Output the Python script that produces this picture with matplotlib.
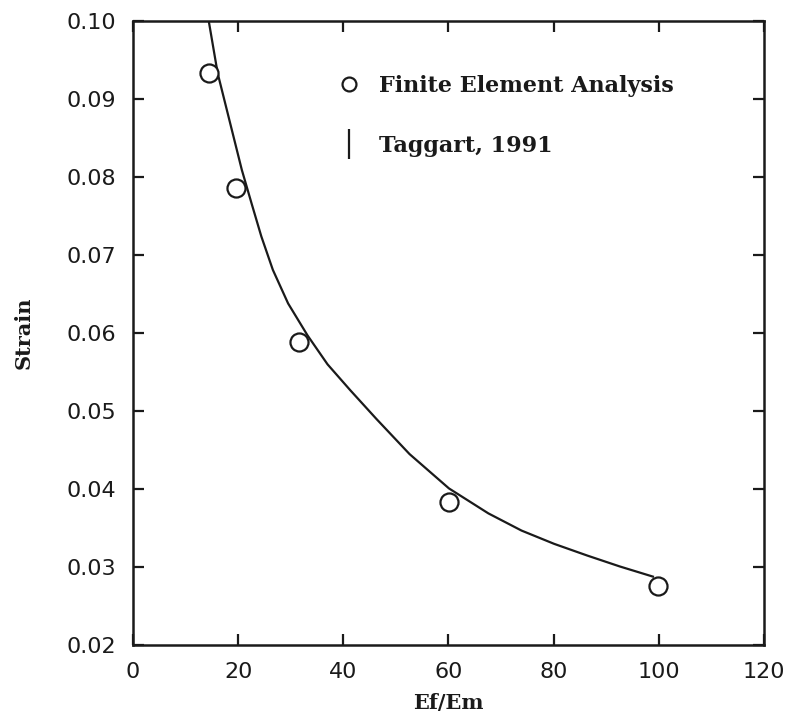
import matplotlib
matplotlib.use("Agg")
import matplotlib.pyplot as plt
from matplotlib.lines import Line2D

# finite element results
fea_x = [14.4, 19.6, 31.5, 60.2, 99.9]
fea_y = [0.0933, 0.0786, 0.0589, 0.0384, 0.0276]

# Taggart, 1991 curve
tag_x = [14.4, 16.1, 20.7, 22.6, 24.4, 26.6, 29.5, 33.2, 37.0, 41.3, 46.3,
         52.6, 60.1, 67.6, 73.9, 80.1, 86.4, 92.6, 98.9]
tag_y = [0.1000, 0.0933, 0.0809, 0.0765, 0.0724, 0.0681, 0.0638, 0.0597,
         0.0560, 0.0527, 0.0490, 0.0445, 0.0401, 0.0369, 0.0347, 0.0330,
         0.0315, 0.0301, 0.0288]

x_ticks = [0, 20, 40, 60, 80, 100, 120]
y_ticks = [0.02, 0.03, 0.04, 0.05, 0.06, 0.07, 0.08, 0.09, 0.10]

fig, ax = plt.subplots(figsize=(7.99, 7.21), dpi=100)
fig.subplots_adjust(left=0.1665, right=0.956, top=0.971, bottom=0.105)

ax.plot(tag_x, tag_y, color='#1a1a1a', lw=1.6, zorder=2,
        solid_joinstyle='round')
ax.plot(fea_x, fea_y, 'o', ms=13, mfc='white', mec='#1a1a1a', mew=1.6,
        ls='none', zorder=3)

ax.set_xlim(0, 120)
ax.set_ylim(0.02, 0.10)
ax.set_xticks(x_ticks)
ax.set_yticks(y_ticks)
ax.set_xticklabels([str(v) for v in x_ticks])
ax.set_yticklabels(['%.2f' % v for v in y_ticks])

ax.tick_params(direction='in', length=8, width=1.6, top=True, right=True,
               labelsize=16, pad=12, colors='#1a1a1a')
for s in ax.spines.values():
    s.set_linewidth(1.8)
    s.set_color('#1a1a1a')

lab_font = dict(family='DejaVu Serif', weight='bold', size=15, color='#1a1a1a')
ax.set_xlabel('Ef/Em', labelpad=8, **lab_font)
ax.set_ylabel('Strain', labelpad=24, **lab_font)

handles = [
    Line2D([], [], marker='o', ls='none', ms=10, mfc='white', mec='#1a1a1a', mew=1.6),
    Line2D([], [], marker='|', ls='none', ms=22, mec='#1a1a1a', mew=1.6),
]
leg = ax.legend(handles, ['Finite Element Analysis', 'Taggart, 1991'],
                loc='upper left', bbox_to_anchor=(0.29, 0.945), frameon=False,
                handlelength=1.2, handletextpad=0.75, labelspacing=1.7,
                prop=dict(family='DejaVu Serif', weight='bold', size=16))
for t in leg.get_texts():
    t.set_color('#1a1a1a')

fig.savefig('out.png', dpi=100, facecolor='white')
